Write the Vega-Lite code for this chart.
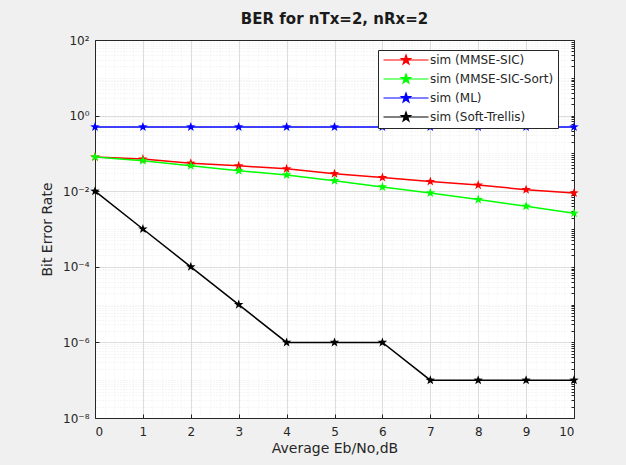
{
  "$schema": "https://vega.github.io/schema/vega-lite/v6.json",
  "width": 479,
  "height": 378,
  "autosize": "none",
  "padding": {"left": 95, "top": 40, "right": 52, "bottom": 47},
  "background": "#f0f0f0",
  "title": {"text": "BER for nTx=2, nRx=2", "font": "DejaVu Sans", "fontSize": 15, "fontWeight": "bold", "color": "#1a1a1a", "offset": 7},
  "config": {
    "view": {"fill": "white", "stroke": "#262626", "strokeWidth": 1},
    "axis": {"labelFont": "DejaVu Sans", "titleFont": "DejaVu Sans", "labelColor": "#262626", "titleColor": "#262626", "titleFontWeight": "normal", "domain": true, "domainColor": "#262626", "domainWidth": 1, "ticks": true, "tickColor": "#262626", "tickWidth": 1}
  },
  "data": {"values": [
    {"x": 0, "ber": 0.08, "series": "sim (MMSE-SIC)"},
    {"x": 1, "ber": 0.071, "series": "sim (MMSE-SIC)"},
    {"x": 2, "ber": 0.055, "series": "sim (MMSE-SIC)"},
    {"x": 3, "ber": 0.047, "series": "sim (MMSE-SIC)"},
    {"x": 4, "ber": 0.039, "series": "sim (MMSE-SIC)"},
    {"x": 5, "ber": 0.029, "series": "sim (MMSE-SIC)"},
    {"x": 6, "ber": 0.023, "series": "sim (MMSE-SIC)"},
    {"x": 7, "ber": 0.018, "series": "sim (MMSE-SIC)"},
    {"x": 8, "ber": 0.0145, "series": "sim (MMSE-SIC)"},
    {"x": 9, "ber": 0.011, "series": "sim (MMSE-SIC)"},
    {"x": 10, "ber": 0.009, "series": "sim (MMSE-SIC)"},
    {"x": 0, "ber": 0.08, "series": "sim (MMSE-SIC-Sort)"},
    {"x": 1, "ber": 0.064, "series": "sim (MMSE-SIC-Sort)"},
    {"x": 2, "ber": 0.047, "series": "sim (MMSE-SIC-Sort)"},
    {"x": 3, "ber": 0.035, "series": "sim (MMSE-SIC-Sort)"},
    {"x": 4, "ber": 0.027, "series": "sim (MMSE-SIC-Sort)"},
    {"x": 5, "ber": 0.019, "series": "sim (MMSE-SIC-Sort)"},
    {"x": 6, "ber": 0.013, "series": "sim (MMSE-SIC-Sort)"},
    {"x": 7, "ber": 0.009, "series": "sim (MMSE-SIC-Sort)"},
    {"x": 8, "ber": 0.006, "series": "sim (MMSE-SIC-Sort)"},
    {"x": 9, "ber": 0.004, "series": "sim (MMSE-SIC-Sort)"},
    {"x": 10, "ber": 0.0026, "series": "sim (MMSE-SIC-Sort)"},
    {"x": 0, "ber": 0.5, "series": "sim (ML)"},
    {"x": 1, "ber": 0.5, "series": "sim (ML)"},
    {"x": 2, "ber": 0.5, "series": "sim (ML)"},
    {"x": 3, "ber": 0.5, "series": "sim (ML)"},
    {"x": 4, "ber": 0.5, "series": "sim (ML)"},
    {"x": 5, "ber": 0.5, "series": "sim (ML)"},
    {"x": 6, "ber": 0.5, "series": "sim (ML)"},
    {"x": 7, "ber": 0.5, "series": "sim (ML)"},
    {"x": 8, "ber": 0.5, "series": "sim (ML)"},
    {"x": 9, "ber": 0.5, "series": "sim (ML)"},
    {"x": 10, "ber": 0.5, "series": "sim (ML)"},
    {"x": 0, "ber": 1e-2, "series": "sim (Soft-Trellis)"},
    {"x": 1, "ber": 1e-3, "series": "sim (Soft-Trellis)"},
    {"x": 2, "ber": 1e-4, "series": "sim (Soft-Trellis)"},
    {"x": 3, "ber": 1e-5, "series": "sim (Soft-Trellis)"},
    {"x": 4, "ber": 1e-6, "series": "sim (Soft-Trellis)"},
    {"x": 5, "ber": 1e-6, "series": "sim (Soft-Trellis)"},
    {"x": 6, "ber": 1e-6, "series": "sim (Soft-Trellis)"},
    {"x": 7, "ber": 1e-7, "series": "sim (Soft-Trellis)"},
    {"x": 8, "ber": 1e-7, "series": "sim (Soft-Trellis)"},
    {"x": 9, "ber": 1e-7, "series": "sim (Soft-Trellis)"},
    {"x": 10, "ber": 1e-7, "series": "sim (Soft-Trellis)"}
  ]},
  "layer": [
    {
      "mark": {"type": "line", "strokeWidth": 1.5},
      "encoding": {
        "x": {"field": "x", "type": "quantitative", "scale": {"domain": [0, 10], "nice": false},
          "axis": {"orient": "top", "values": [0,0.2,0.4,0.6,0.8,1,1.2,1.4,1.6,1.8,2,2.2,2.4,2.6,2.8,3,3.2,3.4,3.6,3.8,4,4.2,4.4,4.6,4.8,5,5.2,5.4,5.6,5.8,6,6.2,6.4,6.6,6.8,7,7.2,7.4,7.6,7.8,8,8.2,8.4,8.6,8.8,9,9.2,9.4,9.6,9.8,10], "labels": false, "ticks": false, "title": null, "grid": true, "gridColor": "#bbbbbb", "gridOpacity": 0.4, "gridDash": [1, 2], "gridWidth": 0.5}},
        "y": {"field": "ber", "type": "quantitative", "scale": {"type": "log", "domain": [1e-8, 100], "nice": false},
          "axis": {"orient": "right", "values": [1e-8,2e-8,3e-8,4e-8,5e-8,6e-8,7e-8,8e-8,9e-8,1e-7,2e-7,3e-7,4e-7,5e-7,6e-7,7e-7,8e-7,9e-7,1e-6,2e-6,3e-6,4e-6,5e-6,6e-6,7e-6,8e-6,9e-6,1e-5,2e-5,3e-5,4e-5,5e-5,6e-5,7e-5,8e-5,9e-5,1e-4,2e-4,3e-4,4e-4,5e-4,6e-4,7e-4,8e-4,9e-4,1e-3,2e-3,3e-3,4e-3,5e-3,6e-3,7e-3,8e-3,9e-3,1e-2,2e-2,3e-2,4e-2,5e-2,6e-2,7e-2,8e-2,9e-2,0.1,0.2,0.3,0.4,0.5,0.6,0.7,0.8,0.9,1,2,3,4,5,6,7,8,9,10,20,30,40,50,60,70,80,90,100], "labels": false, "title": null, "tickSize": -3, "grid": true, "gridColor": "#bbbbbb", "gridOpacity": 0.5, "gridDash": [1, 2], "gridWidth": 0.5}},
        "color": {"field": "series", "type": "nominal",
          "scale": {"domain": ["sim (MMSE-SIC)", "sim (MMSE-SIC-Sort)", "sim (ML)", "sim (Soft-Trellis)"], "range": ["#ff0000", "#00ff00", "#0000ff", "#000000"]},
          "legend": {"orient": "none", "legendX": 283, "legendY": 10, "title": null, "fillColor": "white", "strokeColor": "#262626", "padding": 4, "labelFont": "DejaVu Sans", "labelFontSize": 12, "labelColor": "#262626", "rowPadding": 4, "symbolSize": 100, "symbolOffset": 18, "labelOffset": 18, "symbolStrokeWidth": 1.2, "symbolOpacity": 1,
            "symbolType": "M-4.5,0L4.5,0M0,-1L0.235,-0.324L0.951,-0.309L0.38,0.124L0.588,0.809L0,0.4L-0.588,0.809L-0.38,0.124L-0.951,-0.309L-0.235,-0.324Z"}}
      }
    },
    {
      "mark": {"type": "point", "filled": true, "opacity": 1, "size": 100, "shape": "M0,-1L0.235,-0.324L0.951,-0.309L0.38,0.124L0.588,0.809L0,0.4L-0.588,0.809L-0.38,0.124L-0.951,-0.309L-0.235,-0.324Z"},
      "encoding": {
        "x": {"field": "x", "type": "quantitative",
          "axis": {"orient": "bottom", "values": [0,1,2,3,4,5,6,7,8,9,10], "title": "Average Eb/No,dB", "titleFontSize": 14, "titlePadding": 4, "labelFontSize": 12, "tickSize": -4, "labelPadding": 12, "grid": true, "gridColor": "#dddddd", "gridWidth": 1}},
        "y": {"field": "ber", "type": "quantitative",
          "axis": {"orient": "left", "values": [1e-8, 1e-6, 1e-4, 1e-2, 1, 100], "labelExpr": "datum.value >= 50 ? '10²' : datum.value >= 0.5 ? '10⁰' : datum.value >= 0.005 ? '10⁻²' : datum.value >= 0.00005 ? '10⁻⁴' : datum.value >= 0.0000005 ? '10⁻⁶' : '10⁻⁸'", "title": "Bit Error Rate", "titleFontSize": 14, "titlePadding": 8, "labelFontSize": 12, "tickSize": -4, "labelPadding": 10, "grid": true, "gridColor": "#dddddd", "gridWidth": 1}},
        "color": {"field": "series", "type": "nominal"}
      }
    }
  ],
  "resolve": {"axis": {"x": "independent", "y": "independent"}}
}
